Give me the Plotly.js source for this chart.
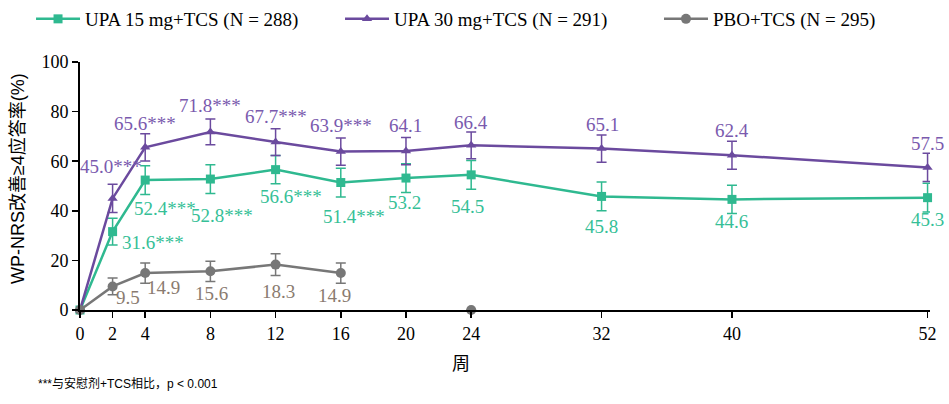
<!DOCTYPE html>
<html>
<head>
<meta charset="utf-8">
<script src="https://cdn.plot.ly/plotly-3.0.1.min.js"></script>
<style>
  html, body { margin: 0; padding: 0; background: #fff; }
  #chart { width: 949px; height: 404px; }
</style>
</head>
<body>
<div id="chart"></div>
<script>
// weeks on the x axis
var weeks = [0, 2, 4, 8, 12, 16, 20, 24, 32, 40, 52];
var tickWeeks = [0, 2, 4, 8, 12, 16, 20, 24, 32, 40, 52];
var pboWeeks = [0, 2, 4, 8, 12, 16, 20, 24];

// response rates (%)
var upa15 = [0, 31.6, 52.4, 52.8, 56.6, 51.4, 53.2, 54.5, 45.8, 44.6, 45.3];
var upa30 = [0, 45.0, 65.6, 71.8, 67.7, 63.9, 64.1, 66.4, 65.1, 62.4, 57.5];
var pbo = [0, 9.5, 14.9, 15.6, 18.3, 14.9, null, 0];

// error bar half widths
var upa15Err = [null, 5.4, 5.8, 5.8, 5.7, 5.8, 5.8, 5.8, 5.8, 5.7, 5.8];
var upa30Err = [null, 5.7, 5.5, 5.2, 5.4, 5.5, 5.5, 5.4, 5.5, 5.6, 5.7];
var pboErr = [null, 3.4, 4.1, 4.1, 4.4, 4.1, null, null];

// data labels
var upa15Labels = [null, '31.6***', '52.4***', '52.8***', '56.6***', '51.4***', '53.2', '54.5', '45.8', '44.6', '45.3'];
var upa30Labels = [null, '45.0***', '65.6***', '71.8***', '67.7***', '63.9***', '64.1', '66.4', '65.1', '62.4', '57.5'];
var pboLabels = [null, '9.5', '14.9', '15.6', '18.3', '14.9', null, null];

var seriesNames = ['UPA 15 mg+TCS (N = 288)', 'UPA 30 mg+TCS (N = 291)', 'PBO+TCS (N = 295)'];

var green = '#2fb990', greenText = '#36bf97';
var purple = '#6b4a9e', purpleText = '#7a5aae';
var grey = '#777777', greyText = '#8a7b70';
var serif = 'Liberation Serif, FreeSerif, Nimbus Roman, DejaVu Serif';
var sans = 'Liberation Sans, Arial, Noto Sans CJK SC, sans-serif';

// label offsets in px [dx, dy(up)]
var upa15Shift = [null, [40, -11], [20, -28], [12, -36], [15, -27], [13, -34], [-1, -24], [-4, -32], [0, -30], [0, -22], [0, -22]];
var upa30Shift = [null, [-2, 32], [0, 24], [0, 26], [0, 26], [0, 26], [0, 26], [0, 23], [1, 24], [0, 25], [0, 24]];
var pboShift = [null, [15, -11], [18, -14], [1, -22], [3, -27], [-6, -22], null, null];

function trace(x, y, err, name, color, symbol, size, legendId) {
    return {
        x: x,
        y: y,
        name: name,
        legend: legendId,
        type: 'scatter',
        mode: 'lines+markers',
        connectgaps: false,
        line: {color: color, width: 2.5},
        marker: {color: color, symbol: symbol, size: size},
        error_y: {type: 'data', array: err, visible: true, color: color, thickness: 1.5, width: 5},
        cliponaxis: false,
        hoverinfo: 'skip'
    };
}

function labelAnns(x, y, labels, shifts, color) {
    var out = [];
    for (var i = 0; i < labels.length; i++) {
        if (labels[i] === null) continue;
        out.push({
            x: x[i], y: y[i], xref: 'x', yref: 'y',
            xanchor: 'center', yanchor: 'middle',
            text: labels[i], showarrow: false,
            xshift: shifts[i][0], yshift: shifts[i][1],
            font: {family: serif, size: 19, color: color}
        });
    }
    return out;
}

var data = [
    trace(weeks, upa15, upa15Err, seriesNames[0], green, 'square', 9, 'legend'),
    trace(weeks, upa30, upa30Err, seriesNames[1], purple, 'triangle-up', 9, 'legend2'),
    trace(pboWeeks, pbo, pboErr, seriesNames[2], grey, 'circle', 10, 'legend3')
];

var annotations = []
    .concat(labelAnns(weeks, upa30, upa30Labels, upa30Shift, purpleText))
    .concat(labelAnns(weeks, upa15, upa15Labels, upa15Shift, greenText))
    .concat(labelAnns(pboWeeks, pbo, pboLabels, pboShift, greyText));

annotations.push({
    xref: 'paper', yref: 'paper', x: 0.448, y: -0.21,
    xanchor: 'center', yanchor: 'middle',
    text: '周', showarrow: false,
    font: {family: 'Noto Sans CJK SC, sans-serif', size: 18, color: '#000'}
});
annotations.push({
    xref: 'paper', yref: 'paper', x: -0.073, y: 0.532, textangle: -90,
    xanchor: 'center', yanchor: 'middle',
    text: 'WP-NRS改善≥4应答率(%)', showarrow: false,
    font: {family: sans, size: 18, color: '#000'}
});
annotations.push({
    xref: 'paper', yref: 'paper', x: -0.052, y: -0.298,
    xanchor: 'left', yanchor: 'middle',
    text: '***与安慰剂+TCS相比，p < 0.001', showarrow: false,
    font: {family: sans, size: 12, color: '#000'}
});

function legendAt(x) {
    return {
        orientation: 'h',
        xref: 'container', yref: 'container',
        x: x, y: 1.0, xanchor: 'left', yanchor: 'top',
        itemwidth: 44,
        font: {family: serif, size: 19, color: '#000'}
    };
}

var layout = {
    width: 949,
    height: 404,
    margin: {l: 80, r: 19, t: 62, b: 94},
    paper_bgcolor: '#fff',
    plot_bgcolor: '#fff',
    font: {family: serif, size: 18, color: '#000'},
    showlegend: true,
    legend: legendAt(0.0327),
    legend2: legendAt(0.3583),
    legend3: legendAt(0.6944),
    xaxis: {
        range: [0, 52.15],
        tickvals: tickWeeks,
        ticks: 'outside', ticklen: 6, tickwidth: 1.5, tickcolor: '#000',
        showline: true, linecolor: '#000', linewidth: 2,
        showgrid: false, zeroline: false,
        tickfont: {family: serif, size: 18, color: '#000'}
    },
    yaxis: {
        range: [0, 100],
        tickvals: [0, 20, 40, 60, 80, 100],
        ticks: 'outside', ticklen: 6, tickwidth: 1.5, tickcolor: '#000',
        showline: true, linecolor: '#000', linewidth: 2,
        showgrid: false, zeroline: false,
        tickfont: {family: serif, size: 18, color: '#000'}
    },
    annotations: annotations
};

var config = {responsive: false, displayModeBar: false, staticPlot: true};
Plotly.newPlot('chart', data, layout, config);
</script>
</body>
</html>
